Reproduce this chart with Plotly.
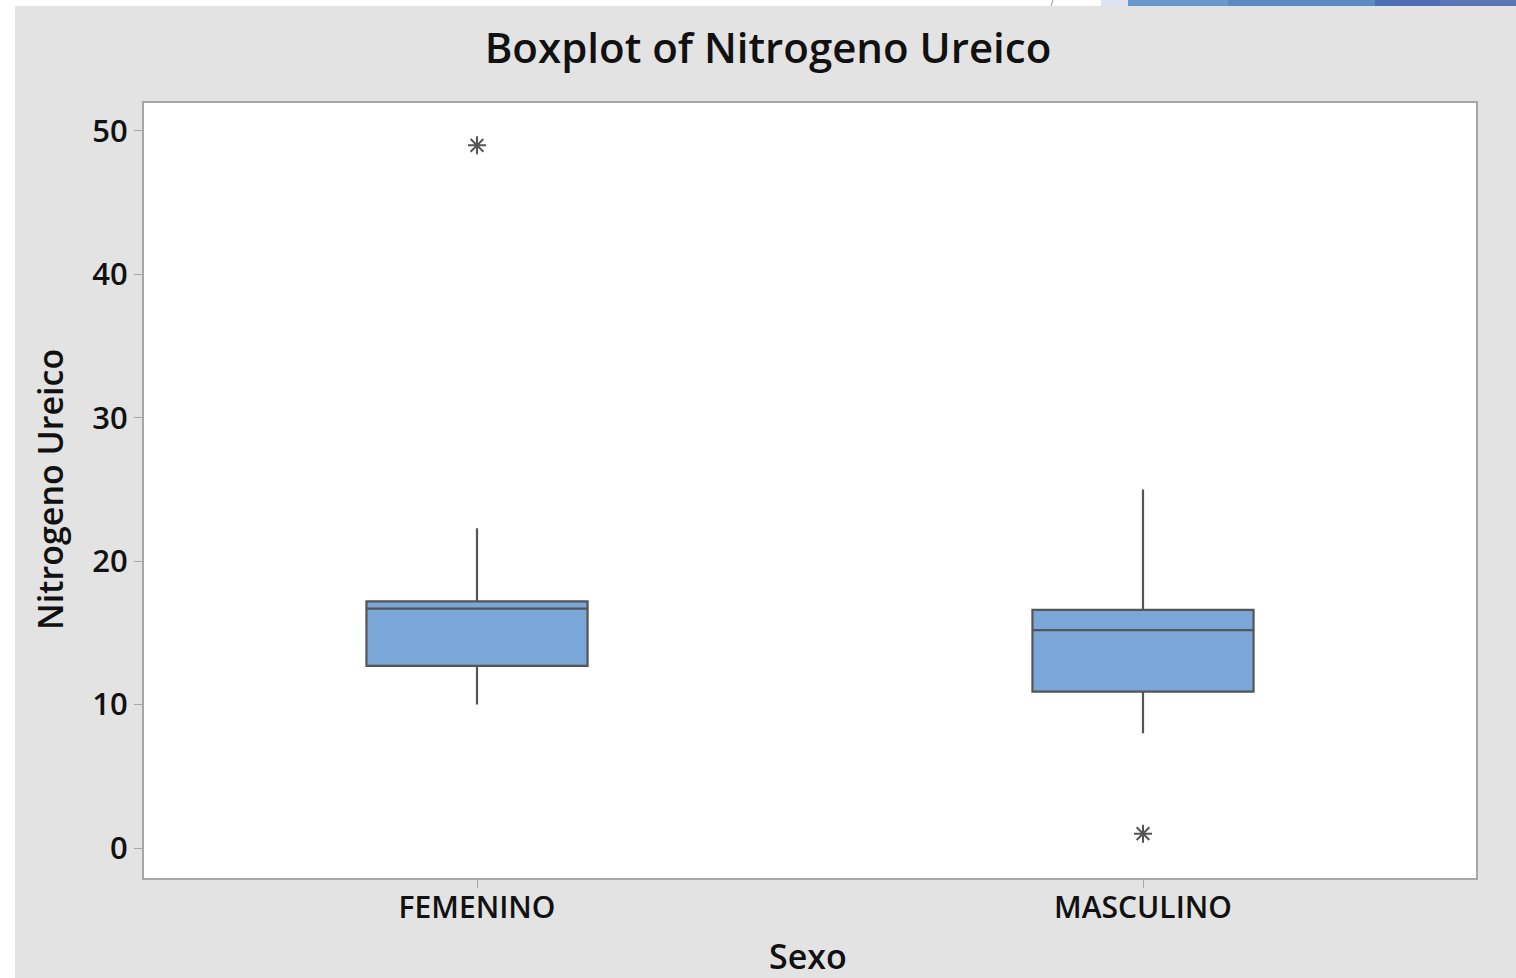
import plotly.graph_objects as go

# Summary statistics of urea nitrogen by sex
sexo = ["FEMENINO", "MASCULINO"]
q1 = [12.7, 10.9]
mediana = [16.7, 15.2]
q3 = [17.2, 16.6]
bigote_inf = [10.0, 8.0]
bigote_sup = [22.3, 25.0]

# Outlying observations
atipicos_sexo = ["FEMENINO", "MASCULINO"]
atipicos_valor = [49.0, 1.0]

W, H = 1516, 978
L, R, T, B = 144, 40, 103, 100
pw, ph = W - L - R, H - T - B


def px_x(p):
    return (p - L) / pw


def px_y(p):
    return (H - B - p) / ph


fig = go.Figure()

fig.add_trace(go.Box(
    x=sexo,
    q1=q1,
    median=mediana,
    q3=q3,
    lowerfence=bigote_inf,
    upperfence=bigote_sup,
    width=0.332,
    whiskerwidth=0,
    fillcolor="#7ba6d8",
    line=dict(color="#555555", width=2.2),
    boxpoints=False,
    showlegend=False,
    hoverinfo="skip",
))

fig.add_trace(go.Scatter(
    x=atipicos_sexo,
    y=atipicos_valor,
    mode="markers",
    marker=dict(symbol="asterisk-open", size=15, color="#555555",
                line=dict(color="#555555", width=2)),
    showlegend=False,
    hoverinfo="skip",
))

font_fam = "Open Sans, Noto Sans, sans-serif"

# Window decorations around the chart panel
shapes = [
    dict(type="rect", xref="paper", yref="paper",
         x0=px_x(0), x1=px_x(15), y0=px_y(H), y1=px_y(0),
         fillcolor="white", line=dict(width=0), layer="above"),
    dict(type="rect", xref="paper", yref="paper",
         x0=px_x(0), x1=px_x(W), y0=px_y(6), y1=px_y(0),
         fillcolor="white", line=dict(width=0), layer="above"),
    dict(type="line", xref="paper", yref="paper",
         x0=px_x(1051), x1=px_x(1053), y0=px_y(6), y1=px_y(0),
         line=dict(color="#9a9a9a", width=1), layer="above"),
    dict(type="rect", xref="paper", yref="paper",
         x0=px_x(1101), x1=px_x(1130), y0=px_y(6), y1=px_y(0),
         fillcolor="#dde3f1", line=dict(width=0), layer="above"),
    dict(type="rect", xref="paper", yref="paper",
         x0=px_x(1128), x1=px_x(1228), y0=px_y(6), y1=px_y(0),
         fillcolor="#6898cc", line=dict(width=0), layer="above"),
    dict(type="rect", xref="paper", yref="paper",
         x0=px_x(1228), x1=px_x(1375), y0=px_y(6), y1=px_y(0),
         fillcolor="#5a8bc2", line=dict(width=0), layer="above"),
    dict(type="rect", xref="paper", yref="paper",
         x0=px_x(1375), x1=px_x(1440), y0=px_y(6), y1=px_y(0),
         fillcolor="#4e6fb3", line=dict(width=0), layer="above"),
    dict(type="rect", xref="paper", yref="paper",
         x0=px_x(1440), x1=px_x(W), y0=px_y(6), y1=px_y(0),
         fillcolor="#5a75b8", line=dict(width=0), layer="above"),
]

annotations = [
    dict(text="Nitrogeno Ureico", xref="paper", yref="paper",
         x=px_x(50), y=px_y(489), textangle=-90, showarrow=False,
         xanchor="center", yanchor="middle",
         font=dict(family=font_fam, size=34, color="#111111", weight=600)),
    dict(text="Sexo", xref="paper", yref="paper",
         x=px_x(808), y=px_y(956), showarrow=False,
         xanchor="center", yanchor="middle",
         font=dict(family=font_fam, size=34, color="#111111", weight=600)),
]

fig.update_layout(
    width=W, height=H,
    margin=dict(l=L, r=R, t=T, b=B),
    paper_bgcolor="#e3e3e3",
    plot_bgcolor="white",
    title=dict(text="Boxplot of Nitrogeno Ureico",
               x=768 / W, xref="container", xanchor="center",
               y=1 - 48 / H, yref="container", yanchor="middle",
               font=dict(family=font_fam, size=42, color="#111111", weight=600)),
    shapes=shapes,
    annotations=annotations,
    boxmode="overlay",
)

fig.update_xaxes(
    range=[-0.5, 1.5],
    showline=True, mirror=True, linecolor="#a6a6a6", linewidth=2,
    ticks="outside", ticklen=8, tickcolor="#a6a6a6", tickwidth=1,
    ticklabelstandoff=-6,
    showgrid=False, zeroline=False,
    tickfont=dict(family=font_fam, size=30, color="#111111", weight=600),
)

fig.update_yaxes(
    range=[-2.09, 51.95],
    tickvals=[0, 10, 20, 30, 40, 50],
    showline=True, mirror=True, linecolor="#a6a6a6", linewidth=2,
    ticks="outside", ticklen=8, tickcolor="#a6a6a6", tickwidth=1,
    showgrid=False, zeroline=False,
    tickfont=dict(family=font_fam, size=31, color="#111111", weight=600),
)

fig.write_html("out.html")
